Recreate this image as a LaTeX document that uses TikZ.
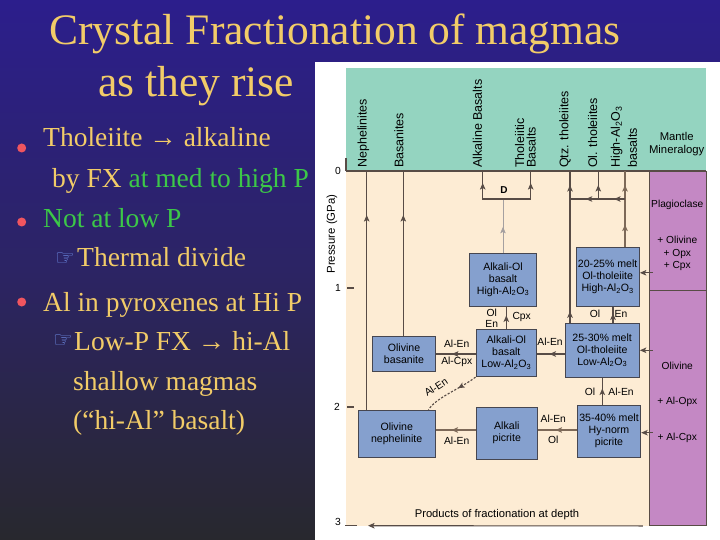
\documentclass[tikz,border=0pt]{standalone}
\usepackage{fontspec}
\setmainfont{Liberation Serif}
\newfontfamily\sansf{Liberation Sans}
\newfontfamily\dejavu{DejaVu Sans}
\usetikzlibrary{arrows.meta,decorations.markings,calc}
\definecolor{bgtop}{RGB}{44,30,140}
\definecolor{bgmid}{RGB}{44,36,100}
\definecolor{bgbot}{RGB}{40,40,46}
\definecolor{hdr}{RGB}{148,212,192}
\definecolor{tanc}{RGB}{253,236,212}
\definecolor{purp}{RGB}{196,136,196}
\definecolor{boxb}{RGB}{133,160,206}
\definecolor{boxedge}{RGB}{70,70,80}
\definecolor{lnc}{RGB}{88,76,70}
\definecolor{lnthk}{RGB}{125,105,88}
\definecolor{lngray}{RGB}{165,160,160}
\definecolor{gold}{RGB}{242,204,104}
\definecolor{grn}{RGB}{60,200,72}
\definecolor{bul}{RGB}{240,85,95}
\definecolor{handc}{RGB}{110,140,230}
\begin{document}
\begin{tikzpicture}[x=1pt,y=-1pt,
  box/.style={draw=boxedge, fill=boxb, line width=0.9pt, align=center, inner sep=0pt, font=\sansf\fontsize{10.6}{12}\selectfont},
  lbl/.style={font=\sansf\fontsize{10.3}{12}\selectfont, inner sep=0pt},
  plbl/.style={font=\sansf\fontsize{10.2}{12}\selectfont, inner sep=0pt},
  hlab/.style={rotate=90, anchor=west, font=\sansf\fontsize{12.5}{11.5}\selectfont, inner sep=0pt, align=left},
  ln/.style={draw=lnc, line width=1.1pt},
  lnt/.style={draw=lnthk, line width=2pt},
  lng/.style={draw=lngray, line width=0.8pt},
  mk/.style={postaction={decorate,decoration={markings,mark=at position #1 with {\arrow{Stealth[length=6.5pt,width=5.5pt,inset=1.5pt]}}}}},
  tip/.style={-{Stealth[length=6.5pt,width=5.5pt,inset=1.5pt]}},
  ttl/.style={font=\fontsize{43.5}{50}\selectfont, inner sep=0pt, anchor=base},
  btxt/.style={font=\fontsize{27.5}{32}\selectfont, inner sep=0pt, anchor=base west, text=gold},
  hand/.style={font=\dejavu\fontsize{22}{24}\selectfont, inner sep=0pt, text=handc},
  bdot/.style={circle, fill=bul, inner sep=0pt, minimum size=9pt}
]
\useasboundingbox (0,0) rectangle (720,540);
\shade[top color=bgtop, bottom color=bgbot, middle color=bgmid] (0,0) rectangle (720,540);

% title
\node[ttl, text=gold] (t1) at (335,45) {Crystal Fractionation of magmas};
\node[ttl, text=gold] (t2) at (196,97) {as they rise};

% bullets
\node[bdot] (d1) at (21.7,148) {};
\node[bdot] (d2) at (21.7,222) {};
\node[bdot] (d3) at (21.7,302) {};
\node[btxt] (l1) at (43,146.7) {Tholeiite → alkaline};
\node[btxt] (l2) at (52,187.3) {by FX \textcolor{grn}{at med to high P}};
\node[btxt, text=grn] (l3) at (43,227.7) {Not at low P};
\node[hand] (h1) at (65,259) {☞};
\node[btxt] (l4) at (77,266.7) {Thermal divide};
\node[btxt] (l5) at (43,311) {Al in pyroxenes at Hi P};
\node[hand] (h2) at (63,341) {☞};
\node[btxt] (l6) at (74,350) {Low-P FX → hi-Al};
\node[btxt] (l7) at (73,390) {shallow magmas};
\node[btxt] (l8) at (73,429) {(“hi-Al” basalt)};

% diagram panel
\fill[white] (315,62) rectangle (720,540);
\fill[hdr] (346,68) rectangle (706,171);
\fill[tanc] (346,171) rectangle (649.3,525.7);
\node[draw=lnc, fill=purp, line width=0.9pt, minimum width=56.7pt, minimum height=119.7pt, inner sep=0pt] (purp1) at (677.65,230.85) {};
\node[draw=lnc, fill=purp, line width=0.9pt, minimum width=56.7pt, minimum height=234.8pt, inner sep=0pt] (purp2) at (677.65,408.1) {};
\draw[ln] (346,171) -- (706,171);
\draw[ln] (346,158) -- (346,171);

% axis
\node[lbl, font=\sansf\fontsize{11.4}{12}\selectfont, rotate=90] (pres) at (332,234) {Pressure (GPa)};
\node[lbl] (a0) at (338,171) {0};
\node[lbl] (a1) at (338,288) {1};
\node[lbl] (a2) at (337,407) {2};
\node[lbl] (a3) at (338,522) {3};
\draw[ln] (347,288) -- (354,288);
\draw[ln] (347,407) -- (354,407);
\draw[ln] (345,525.7) -- (357,525.7);

% header labels
\node[hlab] (hNe) at (363.3,168) {Nephelinites};
\node[hlab] (hBa) at (399,168) {Basanites};
\node[hlab] (hAB) at (477.3,168) {Alkaline Basalts};
\node[hlab] (hTB) at (525.5,168) {Tholeiitic\\Basalts};
\node[hlab] (hQt) at (565,168) {Qtz. tholeiites};
\node[hlab] (hOt) at (592.7,168) {Ol. tholeiites};
\node[hlab, font=\sansf\fontsize{12.5}{17}\selectfont] (hHA) at (624,168) {High-Al\textsubscript{2}O\textsubscript{3}\\basalts};
\node[lbl, align=center, font=\sansf\fontsize{11.3}{12.5}\selectfont] (hMM) at (676.7,144) {Mantle\\Mineralogy};

% purple texts
\node[plbl] (pPl) at (677.3,205) {Plagioclase};
\node[plbl, align=center, font=\sansf\fontsize{10.2}{12.3}\selectfont] (pOl) at (677.3,253.5) {+ Olivine\\+ Opx\\+ Cpx};
\node[plbl] (pOv) at (677.3,366) {Olivine};
\node[plbl] (pAO) at (677.3,402.3) {+ Al-Opx};
\node[plbl] (pAC) at (677.3,438.3) {+ Al-Cpx};

% boxes
\node[box, minimum width=63.3pt, minimum height=59.7pt] (b2025) at (607.7,276.8) {20-25\% melt\\Ol-tholeiite\\High-Al\textsubscript{2}O\textsubscript{3}};
\node[box, minimum width=67.4pt, minimum height=53pt] (bAOh) at (503,279.5) {Alkali-Ol\\basalt\\High-Al\textsubscript{2}O\textsubscript{3}};
\node[box, minimum width=60.7pt, minimum height=47.4pt] (bAOl) at (506.3,353) {Alkali-Ol\\basalt\\Low-Al\textsubscript{2}O\textsubscript{3}};
\node[box, minimum width=74.3pt, minimum height=54pt] (b2530) at (602.2,350.3) {25-30\% melt\\Ol-tholeiite\\Low-Al\textsubscript{2}O\textsubscript{3}};
\node[box, minimum width=63.4pt, minimum height=35pt] (bOB) at (404,354.2) {Olivine\\basanite};
\node[box, minimum width=76.7pt, minimum height=47.3pt] (bON) at (396.7,433.7) {Olivine\\nephelinite};
\node[box, minimum width=61.7pt, minimum height=51.7pt] (bAP) at (506.8,433.2) {Alkali\\picrite};
\node[box, minimum width=63.4pt, minimum height=52.3pt] (b3540) at (609,431.2) {35-40\% melt\\Hy-norm\\picrite};

% column tops and junctions
\coordinate (tNe) at (366.7,171);
\coordinate (tBa) at (403.3,171);
\coordinate (tAB) at (482.7,171);
\coordinate (tTB) at (530.7,171);
\coordinate (tQt) at (570,171);
\coordinate (tOt) at (598.3,171);
\coordinate (tHA) at (625,171);
\coordinate (jD) at (503,199);
\coordinate (jR) at (625,199);
\coordinate (x613) at (613,0);
\coordinate (y354) at (0,354);
\coordinate (y430) at (0,430);
\coordinate (pEnd) at (368,525.7);

% vertical lines to header
\draw[ln, mk=-44pt] (tNe |- bON.north) -- (tNe);
\draw[ln, mk=-44pt] (tBa |- bOB.north) -- (tBa);
\draw[lng, mk=0.48] (bAOh.north) -- (jD);
\draw[ln, mk=-12pt] (jD) -| (tAB);
\draw[ln, mk=-12pt] (jD) -| (tTB);
\node[font=\sansf\bfseries\fontsize{10}{12}\selectfont, inner sep=0pt] (D) at (504,190) {D};
\draw[ln, mk=11.6pt, mk=-14pt] (tQt |- b2530.north) -- (tQt);
\draw[lnt, mk=22pt, mk=-14pt] (tHA |- b2025.north) -- (tHA);
\draw[ln, mk=11pt, mk=39.3pt] (jR) -- (jR -| tQt);
\draw[ln, mk=-14pt] (tOt |- jR) -- (tOt);

% between boxes
\draw[ln, mk=0.6] (bAOl.north) -- (bAOl.north |- bAOh.south);
\node[lbl] at (491.7,313) {Ol};
\node[lbl] at (491.7,324) {En};
\node[lbl] at (521.7,316.7) {Cpx};

\draw[ln, mk=0.6] (x613 |- b2530.north) -- (x613 |- b2025.south);
\node[lbl] at (595,314) {Ol};
\node[lbl] at (621,314) {En};

\draw[ln, mk=0.55] (b2530.west |- y354) -- (bAOl.east |- y354);
\node[lbl] at (550,341.7) {Al-En};

\draw[ln, mk=0.6] (bAOl.west |- y354) -- (bOB.east |- y354);
\node[lbl] at (456.7,343.3) {Al-En};
\node[lbl] at (456.7,361.5) {Al-Cpx};

\draw[ln, dashed, dash pattern=on 2.2pt off 1.6pt, mk=0.36] (bAOl.south west) .. controls (460,389) and (437,397) .. ($(bON.north east)+(-7,0)$);
\node[lbl, rotate=33] at (436,387) {Al-En};

\draw[ln, mk=0.6] (b3540.north -| 602.3,0) -- (b2530.south -| 602.3,0);
\node[lbl] at (590,391.7) {Ol};
\node[lbl] at (621,391.7) {Al-En};

\draw[lnt, mk=0.55] (b3540.west |- y430) -- (bAP.east |- y430);
\node[lbl] at (553.3,418.3) {Al-En};
\node[lbl] at (553.3,440) {Ol};

\draw[lnt, mk=0.6] (bAP.west |- y430) -- (bON.east |- y430);
\node[lbl] at (456.7,440.7) {Al-En};

% from mantle
\draw[ln, tip] ($(purp1.west |- b2025.east)+(4,-4)$) -- ($(b2025.east)+(0,-4)$);
\draw[ln, tip] ($(purp2.west |- b2530.east)+(4,0)$) -- (b2530.east);
\draw[ln, tip] ($(purp2.west |- b3540.east)+(4,1.5)$) -- ($(b3540.east)+(0,1.5)$);

% bottom arrow
\draw[ln, tip] ($(purp2.south west)+(-6,0)$) -- (pEnd);
\node[lbl, font=\sansf\fontsize{11.2}{12}\selectfont] (prod) at (497,514.3) {Products of fractionation at depth};
\end{tikzpicture}
\end{document}
